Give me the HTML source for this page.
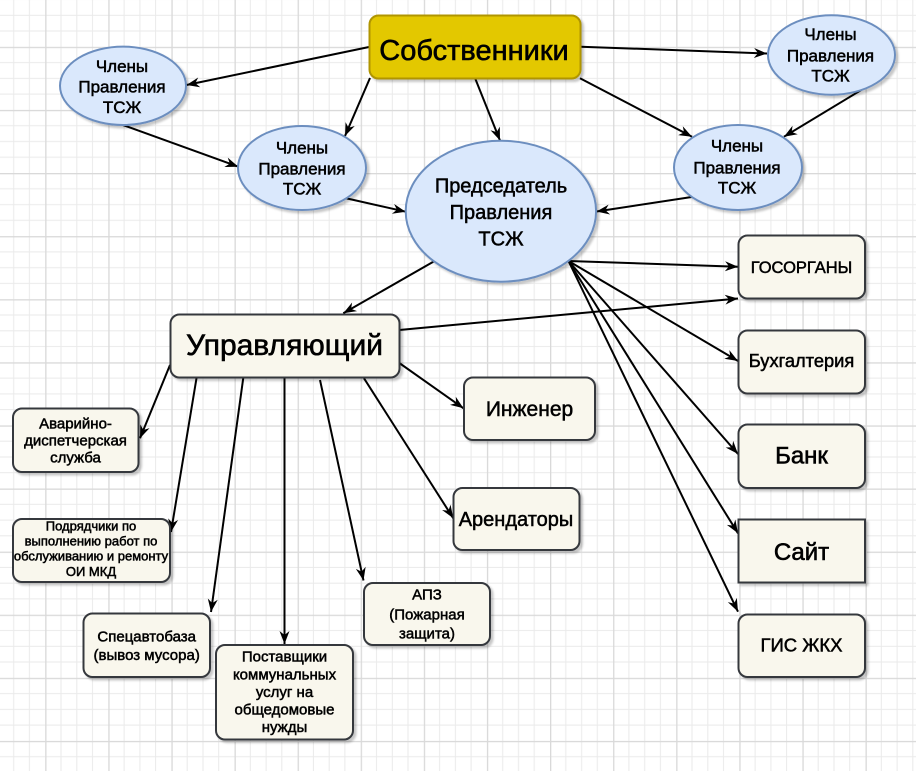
<!DOCTYPE html>
<html>
<head>
<meta charset="utf-8">
<style>
  html,body{margin:0;padding:0;background:#fff;}
  svg{display:block;}
  text{font-family:"Liberation Sans","Noto Sans CJK SC",sans-serif;fill:#000;text-anchor:middle;stroke:#000;stroke-width:0.5px;}
  .big{stroke-width:0.6px;}
</style>
</head>
<body>
<svg width="916" height="771" viewBox="0 0 916 771" xmlns="http://www.w3.org/2000/svg">
  <defs>
    <pattern id="grid" patternUnits="userSpaceOnUse" x="45.2" y="46.8" width="63.1" height="63.1">
      <rect x="15.3" y="0" width="1" height="63.1" fill="#eaeaea"/>
      <rect x="31.1" y="0" width="1" height="63.1" fill="#eaeaea"/>
      <rect x="46.8" y="0" width="1" height="63.1" fill="#eaeaea"/>
      <rect x="0" y="15.3" width="63.1" height="1" fill="#eaeaea"/>
      <rect x="0" y="31.1" width="63.1" height="1" fill="#eaeaea"/>
      <rect x="0" y="46.8" width="63.1" height="1" fill="#eaeaea"/>
      <rect x="0" y="0" width="1.3" height="63.1" fill="#d9d9d9"/>
      <rect x="0" y="0" width="63.1" height="1.3" fill="#d9d9d9"/>
    </pattern>
    <marker id="ar" markerUnits="userSpaceOnUse" markerWidth="14" markerHeight="11" refX="13" refY="5" orient="auto" overflow="visible">
      <path d="M0,0 L13,5 L0,10 L4,5 Z" fill="#000"/>
    </marker>
    <filter id="sh" x="-10%" y="-10%" width="130%" height="130%">
      <feDropShadow dx="2.5" dy="2.5" stdDeviation="1" flood-color="#000" flood-opacity="0.22"/>
    </filter>
  </defs>

  <rect x="0" y="0" width="916" height="771" fill="#fff"/>
  <rect x="0" y="0" width="916" height="771" fill="url(#grid)"/>

  <!-- connectors -->
  <g stroke="#000" stroke-width="2" fill="none" marker-end="url(#ar)">
    <line x1="369" y1="47" x2="186.5" y2="85"/>
    <line x1="370" y1="78" x2="345" y2="136"/>
    <line x1="475" y1="78" x2="500" y2="140.5"/>
    <line x1="581" y1="46.7" x2="767" y2="53.5"/>
    <line x1="580" y1="78.3" x2="692" y2="136.7"/>
    <line x1="875" y1="81.7" x2="784" y2="136.7"/>
    <line x1="123" y1="125" x2="238.3" y2="166.7"/>
    <line x1="345" y1="198" x2="405.7" y2="211.7"/>
    <line x1="693.3" y1="196.7" x2="596.5" y2="211.5"/>
    <line x1="433.3" y1="261.7" x2="343.3" y2="313.3"/>
    <line x1="568.5" y1="261" x2="738" y2="266.7"/>
    <line x1="399.3" y1="330" x2="738" y2="298.5"/>
    <line x1="568.5" y1="261" x2="738" y2="361"/>
    <line x1="568.5" y1="261" x2="738" y2="454"/>
    <line x1="568.5" y1="261" x2="738" y2="533.3"/>
    <line x1="568.5" y1="261" x2="738" y2="611.7"/>
    <line x1="399.3" y1="363" x2="463.5" y2="408.3"/>
    <line x1="364" y1="378.3" x2="453.3" y2="518.3"/>
    <line x1="320" y1="380" x2="363.5" y2="580.5"/>
    <line x1="284.5" y1="377.5" x2="284.5" y2="644"/>
    <line x1="243.3" y1="377.7" x2="211" y2="612"/>
    <line x1="196.7" y1="377" x2="171" y2="532"/>
    <line x1="170" y1="365" x2="140" y2="438.3"/>
  </g>

  <!-- ellipses -->
  <g fill="#dae8fc" stroke="#6c8ebf" stroke-width="2" filter="url(#sh)">
    <ellipse cx="123" cy="85.8" rx="63" ry="39.2"/>
    <ellipse cx="302" cy="168" rx="64" ry="42"/>
    <ellipse cx="500.9" cy="211.2" rx="95.2" ry="70.5"/>
    <ellipse cx="831.5" cy="55" rx="63.5" ry="39.7"/>
    <ellipse cx="738" cy="167.5" rx="64" ry="42.5"/>
  </g>

  <!-- yellow box -->
  <rect x="369.5" y="15.5" width="211" height="63" rx="9" fill="#e3c800" stroke="#b09500" stroke-width="2" filter="url(#sh)"/>

  <!-- beige boxes -->
  <g fill="#f9f7ed" stroke="#36393d" stroke-width="2" filter="url(#sh)">
    <rect x="738.5" y="235.5" width="126.5" height="63" rx="9"/>
    <rect x="738.5" y="330.5" width="126.5" height="63" rx="9"/>
    <rect x="738.5" y="424.5" width="126.5" height="63.5" rx="9"/>
    <rect x="738.5" y="519.5" width="126.5" height="63" rx="0"/>
    <rect x="738.5" y="614.5" width="126.5" height="62.5" rx="9"/>
    <rect x="170.5" y="314.5" width="229" height="63" rx="9"/>
    <rect x="464" y="377.5" width="131" height="62.5" rx="9"/>
    <rect x="453.5" y="488" width="126" height="62" rx="9"/>
    <rect x="13" y="408.5" width="125.5" height="63.5" rx="9"/>
    <rect x="13" y="519" width="157" height="63" rx="9"/>
    <rect x="83.5" y="613.5" width="126.5" height="63.5" rx="9"/>
    <rect x="216" y="645" width="137" height="94.5" rx="9"/>
    <rect x="364" y="583" width="126" height="62" rx="9"/>
  </g>

  <!-- texts -->
  <text class="big" x="474" y="60" font-size="29">Собственники</text>

  <g font-size="17">
    <text x="122" y="72">Члены</text>
    <text x="122" y="92.7">Правления</text>
    <text x="122" y="113">ТСЖ</text>

    <text x="302" y="153.5">Члены</text>
    <text x="302" y="174.3">Правления</text>
    <text x="302" y="194.5">ТСЖ</text>

    <text x="830.5" y="40">Члены</text>
    <text x="830.5" y="61.7">Правления</text>
    <text x="830.5" y="81.7">ТСЖ</text>

    <text x="737" y="151.7">Члены</text>
    <text x="737" y="173.3">Правления</text>
    <text x="737" y="193.3">ТСЖ</text>
  </g>

  <g font-size="20">
    <text x="501" y="192.7">Председатель</text>
    <text x="501" y="219">Правления</text>
    <text x="501" y="245.5">ТСЖ</text>
  </g>

  <text x="801.5" y="273" font-size="16.5">ГОСОРГАНЫ</text>
  <text x="801.5" y="367" font-size="18.3">Бухгалтерия</text>
  <text class="big" x="801.5" y="463.5" font-size="24">Банк</text>
  <text class="big" x="801.5" y="560" font-size="24">Сайт</text>
  <text x="801.5" y="651.7" font-size="18.5">ГИС ЖКХ</text>

  <text class="big" x="284.5" y="355" font-size="30">Управляющий</text>
  <text x="529.5" y="416" font-size="21">Инженер</text>
  <text x="516" y="526" font-size="20">Арендаторы</text>

  <g font-size="15">
    <text x="75.5" y="428.3">Аварийно-</text>
    <text x="75.5" y="445.3">диспетчерская</text>
    <text x="75.5" y="462.3">служба</text>

    <text x="146.7" y="641.7">Спецавтобаза</text>
    <text x="146.7" y="660">(вывоз мусора)</text>

    <text x="284.5" y="661.7">Поставщики</text>
    <text x="284.5" y="679.3">коммунальных</text>
    <text x="284.5" y="697">услуг на</text>
    <text x="284.5" y="714.6">общедомовые</text>
    <text x="284.5" y="732">нужды</text>

    <text x="427" y="599.3">АПЗ</text>
    <text x="427" y="619.3">(Пожарная</text>
    <text x="427" y="638.3">защита)</text>
  </g>

  <g font-size="13">
    <text x="91" y="530.7">Подрядчики по</text>
    <text x="91" y="545.7">выполнению работ по</text>
    <text x="91" y="560.7">обслуживанию и ремонту</text>
    <text x="91" y="576">ОИ МКД</text>
  </g>
</svg>
</body>
</html>
